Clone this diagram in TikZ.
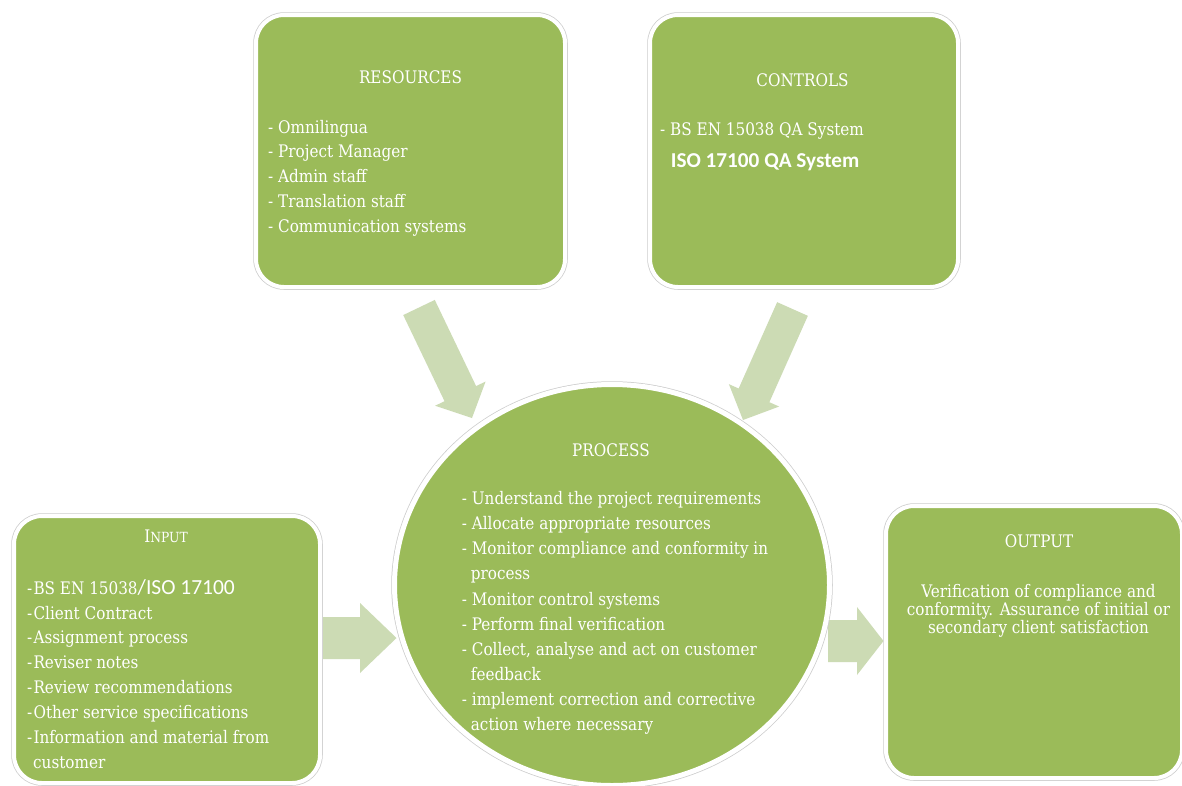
\documentclass[tikz,border=0pt]{standalone}
\usepackage{fontspec}
\setmainfont{DejaVu Serif}[FakeStretch=0.88]
\newfontfamily\calfont{Carlito}
\usetikzlibrary{shapes.geometric,calc}
\definecolor{boxgreen}{RGB}{155,187,89}
\definecolor{arrowfill}{RGB}{204,219,180}
\definecolor{rimgray}{RGB}{205,205,205}
\newcommand\bodysize{\fontsize{17.3}{25}\selectfont}
\newcommand\isosize{\calfont\fontsize{21.5}{25}\selectfont}
\newcommand\isobold{\calfont\bfseries\fontsize{21.2}{25}\selectfont}
\newcommand\dsh{-\kern1.2pt}
\newcommand\blockarrow[5]{%
  \path let \p1=(#1), \p2=(#2), \n1={atan2(\y2-\y1,\x2-\x1)}, \n2={veclen(\x2-\x1,\y2-\y1)} in \pgfextra{\xdef\baang{\n1}\xdef\balen{\n2}};
  \fill[arrowfill, shift={(#1)}, rotate=\baang] (0,-#3) -- ({\balen-#5},-#3) -- ({\balen-#5},-#4) -- (\balen,0) -- ({\balen-#5},#4) -- ({\balen-#5},#3) -- (0,#3) -- cycle;}
\tikzset{
  box/.style={rectangle, rounded corners=28pt, fill=boxgreen, draw=white, line width=4pt, inner sep=0pt, preaction={draw=rimgray, line width=5.5pt}},
  procshape/.style={ellipse, fill=boxgreen, draw=white, line width=5pt, inner sep=0pt, minimum width=435pt, minimum height=401pt, preaction={draw=rimgray, line width=6.5pt}},
  txt/.style={anchor=base west, inner sep=0pt, text=white, font=\bodysize},
  ttl/.style={anchor=base, inner sep=0pt, text=white, font=\bodysize},
}
\begin{document}
\begin{tikzpicture}[x=1pt, y=-1pt]
\useasboundingbox (0,0) rectangle (1182,785);
\fill[white] (0,0) rectangle (1182,785);
\clip (0,0) rectangle (1182,785);

% block arrows
\coordinate (a1s) at (419,307.5); \coordinate (a1e) at (472,418);
\coordinate (a2s) at (792.5,309); \coordinate (a2e) at (743,420);
\coordinate (a3s) at (323,638);   \coordinate (a3e) at (396.5,638);
\coordinate (a4s) at (828,641);   \coordinate (a4e) at (883.5,641);
\blockarrow{a1s}{a1e}{17.5}{28}{27}
\blockarrow{a2s}{a2e}{16.8}{27.5}{27}
\blockarrow{a3s}{a3e}{21}{35}{36.5}
\blockarrow{a4s}{a4e}{21}{34}{26.5}

% shapes
\node[box, minimum width=309pt, minimum height=272pt] (res) at (410.5,151) {};
\node[box, minimum width=308pt, minimum height=272pt] (ctl) at (804,151) {};
\node[box, minimum width=306pt, minimum height=267pt] (inp) at (167,649.5) {};
\node[box, minimum width=296pt, minimum height=272pt] (out) at (1034,642) {};
\node[procshape] (proc) at (612,585) {};

% RESOURCES
\node[ttl] (resT) at (410.5,83) {RESOURCES};
\foreach \t [count=\i] in {Omnilingua, Project Manager, Admin staff, Translation staff, Communication systems}
  \node[txt] (res\i) at (268,{133+24.9*(\i-1)}) {- \t};

% CONTROLS
\node[ttl] (ctlT) at (802.5,86) {CONTROLS};
\node[txt] (ctl1) at (660,135) {- BS EN 15038 QA System};
\node[txt, font=\isobold] (ctl2) at (670.7,167.7) {ISO 17100 QA System};

% PROCESS
\node[ttl] (procT) at (611,456) {PROCESS};
\node[txt] (p1) at (461.7,504) {- Understand the project requirements};
\node[txt] (p2) at (461.7,529) {- Allocate appropriate resources};
\node[txt] (p3) at (461.7,554) {- Monitor compliance and conformity in};
\node[txt] (p3b) at (470.7,579) {process};
\node[txt] (p4) at (461.7,605) {- Monitor control systems};
\node[txt] (p5) at (461.7,630) {- Perform final verification};
\node[txt] (p6) at (461.7,655) {- Collect, analyse and act on customer};
\node[txt] (p6b) at (470.7,680) {feedback};
\node[txt] (p7) at (461.7,705) {- implement correction and corrective};
\node[txt] (p7b) at (470.7,730) {action where necessary};

% INPUT
\node[ttl] (inpT) at (166,542) {I{\fontsize{14}{25}\selectfont NPUT}};
\node[txt] (i1) at (27,594) {\dsh BS EN 15038{\isosize/ISO 17100}};
\node[txt] (i2) at (27,619) {\dsh Client Contract};
\node[txt] (i3) at (27,643.5) {\dsh Assignment process};
\node[txt] (i4) at (27,668) {\dsh Reviser notes};
\node[txt] (i5) at (27,693) {\dsh Review recommendations};
\node[txt] (i6) at (27,718) {\dsh Other service specifications};
\node[txt] (i7) at (27,743) {\dsh Information and material from};
\node[txt] (i7b) at (33,768) {customer};

% OUTPUT
\node[ttl] (outT) at (1039,547) {OUTPUT};
\node[ttl] (o1) at (1038.5,597) {Verification of compliance and};
\node[ttl] (o2) at (1038.5,615) {conformity. Assurance of initial or};
\node[ttl] (o3) at (1038.5,633) {secondary client satisfaction};
\end{tikzpicture}
\end{document}
